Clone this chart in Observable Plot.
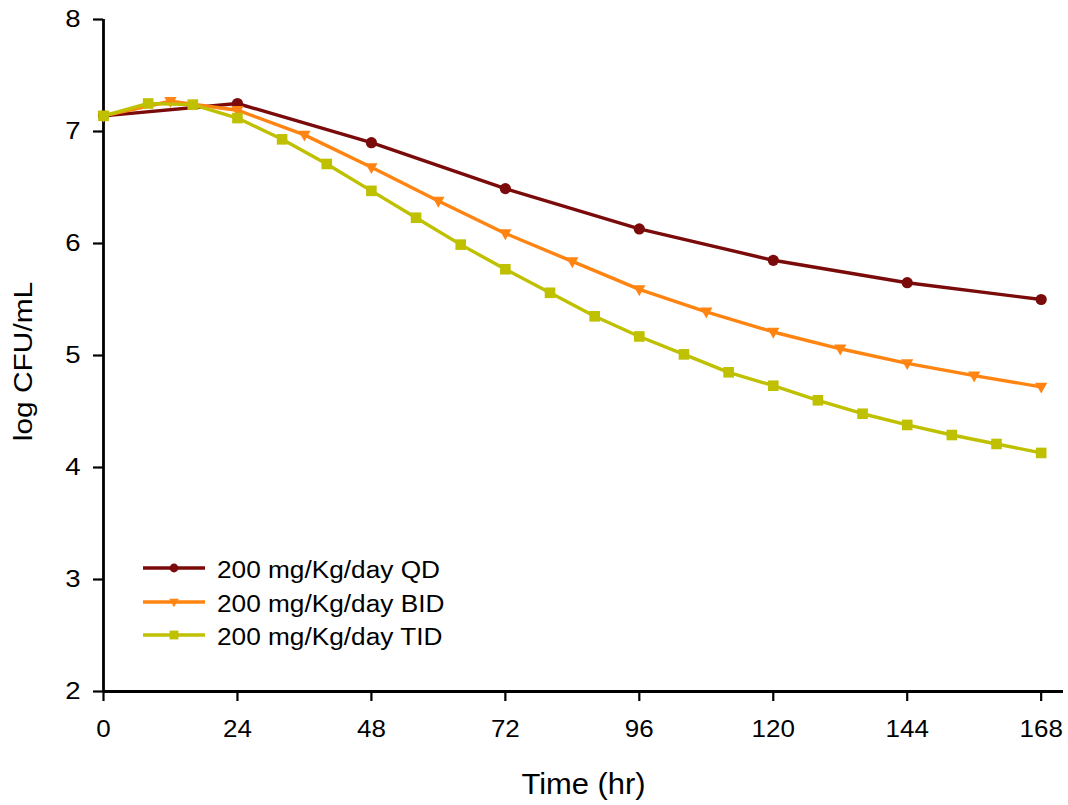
<!DOCTYPE html>
<html>
<head>
<meta charset="utf-8">
<script src="https://cdn.jsdelivr.net/npm/d3@7"></script>
<script src="https://cdn.jsdelivr.net/npm/@observablehq/plot@0.6"></script>
<style>
  html, body { margin: 0; padding: 0; background: #fff; }
  #wrap { position: relative; width: 1068px; height: 805px; overflow: hidden;
          font-family: "Liberation Sans", Arial, sans-serif; }
  #wrap svg.chart { position: absolute; left: 0; top: 0; }
  .lg-row { position: absolute; left: 0; width: 500px; height: 32px; }
  .lg-row svg { position: absolute; left: 138px; top: 0; }
  .lg-row span { position: absolute; left: 217px; top: 2px; line-height: 32px; font-size: 23px;
                 color: #000; white-space: nowrap; transform: scaleX(1.14); transform-origin: left center; }
</style>
</head>
<body>
<div id="wrap"></div>
<script>
// ---- data ----
const seriesNames = ["200 mg/Kg/day QD", "200 mg/Kg/day BID", "200 mg/Kg/day TID"];
const seriesColors = ["#7b0b0b", "#ff8412", "#bec000"];

const timesQD = [0, 24, 48, 72, 96, 120, 144, 168];
const valuesQD = [7.14, 7.25, 6.90, 6.49, 6.13, 5.85, 5.65, 5.50];

const timesBID = [0, 12, 24, 36, 48, 60, 72, 84, 96, 108, 120, 132, 144, 156, 168];
const valuesBID = [7.14, 7.27, 7.19, 6.97, 6.68, 6.38, 6.09, 5.84, 5.59, 5.39, 5.21, 5.06, 4.93, 4.82, 4.72];

const timesTID = [0, 8, 16, 24, 32, 40, 48, 56, 64, 72, 80, 88, 96, 104, 112, 120, 128, 136, 144, 152, 160, 168];
const valuesTID = [7.14, 7.25, 7.24, 7.12, 6.93, 6.71, 6.47, 6.23, 5.99, 5.77, 5.56, 5.35, 5.17, 5.01, 4.85, 4.73, 4.60, 4.48, 4.38, 4.29, 4.21, 4.13];

const xTicks = [0, 24, 48, 72, 96, 120, 144, 168];
const yTicks = [2, 3, 4, 5, 6, 7, 8];
const xTitle = "Time (hr)";
const yTitle = "log CFU/mL";

// ---- marker shapes ----
const squareSym = {
  draw(ctx, size) {
    const r = Math.sqrt(size / Math.PI);
    ctx.moveTo(-r, -r); ctx.lineTo(r, -r); ctx.lineTo(r, r); ctx.lineTo(-r, r); ctx.closePath();
  }
};
const triDownSym = {
  draw(ctx, size) {
    const r = Math.sqrt(size / Math.PI);
    ctx.moveTo(-1.1 * r, -0.75 * r); ctx.lineTo(1.1 * r, -0.75 * r); ctx.lineTo(0, 1.2 * r); ctx.closePath();
  }
};
const symbols = ["circle", triDownSym, squareSym];
const radii = [5.6, 5.6, 5.3];

const table = (ts, vs) => ts.map((t, i) => ({t, v: vs[i]}));
const data = [table(timesQD, valuesQD), table(timesBID, valuesBID), table(timesTID, valuesTID)];

const seriesMarks = data.flatMap((d, i) => [
  Plot.line(d, {x: "t", y: "v", stroke: seriesColors[i], strokeWidth: 3.4}),
  Plot.dot(d, {x: "t", y: "v", fill: seriesColors[i], stroke: "none", symbol: symbols[i], r: radii[i]})
]);

const plot = Plot.plot({
  width: 1068,
  height: 805,
  marginTop: 19,
  marginBottom: 114,
  marginLeft: 103,
  marginRight: 5,
  style: {fontFamily: "'Liberation Sans', Arial, sans-serif", background: "white", color: "black", overflow: "visible"},
  x: {domain: [0, 172]},
  y: {domain: [2, 8]},
  marks: [
    Plot.axisY(yTicks, {tickSize: 10, tickPadding: 13, fontSize: 23, strokeWidth: 2.2, label: null, stroke: "black", fill: "black", tickFormat: d3.format("d")}),
    Plot.axisX(xTicks, {tickSize: 10, tickPadding: 19, fontSize: 23, strokeWidth: 2.2, label: null, stroke: "black", fill: "black", tickFormat: d3.format("d")}),
    Plot.ruleX([0], {strokeWidth: 2.8, stroke: "black"}),
    Plot.ruleY([2], {strokeWidth: 2.8, stroke: "black"}),
    ...seriesMarks,
    Plot.text([xTitle], {text: d => d, frameAnchor: "bottom", textAnchor: "middle", dy: 93, fontSize: 30, lineAnchor: "middle", fill: "black"}),
    Plot.text([yTitle], {text: d => d, frameAnchor: "left", textAnchor: "middle", rotate: -90, dx: -80, dy: 6, fontSize: 26, lineAnchor: "middle", fill: "black"})
  ]
});
plot.classList.add("chart");

// widen glyphs along their reading direction, as in the reference
d3.select(plot).selectAll("text").each(function () {
  const txt = this.textContent;
  const g = this.closest("g");
  const lab = g ? (g.getAttribute("aria-label") || "") : "";
  let k = 1.13;
  if (lab.startsWith("y-axis")) k = 1.2;
  if (txt === xTitle) k = 1.03;
  if (txt === yTitle) k = 1.15;
  const t = this.getAttribute("transform") || "";
  this.setAttribute("transform", t + ` scale(${k},1)`);
});

const wrap = document.getElementById("wrap");
wrap.appendChild(plot);

// ---- legend (inside the plot, lower left) ----
const legendCenters = [568, 602, 635];
seriesNames.forEach((name, i) => {
  const row = document.createElement("div");
  row.className = "lg-row";
  row.style.top = (legendCenters[i] - 16) + "px";
  const ns = "http://www.w3.org/2000/svg";
  const s = document.createElementNS(ns, "svg");
  s.setAttribute("width", 72); s.setAttribute("height", 32);
  const ln = document.createElementNS(ns, "line");
  ln.setAttribute("x1", 5); ln.setAttribute("x2", 67); ln.setAttribute("y1", 16); ln.setAttribute("y2", 16);
  ln.setAttribute("stroke", seriesColors[i]); ln.setAttribute("stroke-width", 3.4);
  s.appendChild(ln);
  const p = document.createElementNS(ns, "path");
  const path = d3.path();
  const sym = symbols[i] === "circle" ? d3.symbolCircle : symbols[i];
  sym.draw(path, Math.PI * 4.4 * 4.4);
  p.setAttribute("d", path.toString());
  p.setAttribute("transform", "translate(36,16)");
  p.setAttribute("fill", seriesColors[i]);
  s.appendChild(p);
  row.appendChild(s);
  const sp = document.createElement("span");
  sp.textContent = name;
  row.appendChild(sp);
  wrap.appendChild(row);
});
</script>
</body>
</html>
